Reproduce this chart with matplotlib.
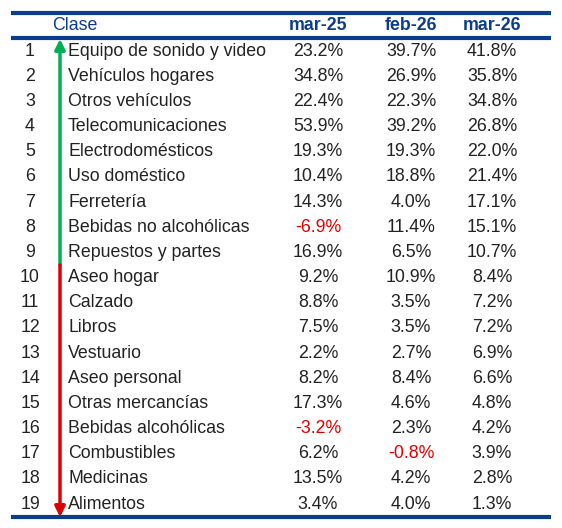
import matplotlib.pyplot as plt

plt.rcParams['font.family'] = ['Liberation Sans', 'DejaVu Sans']

clases = ["Equipo de sonido y video", "Vehículos hogares", "Otros vehículos",
          "Telecomunicaciones", "Electrodomésticos", "Uso doméstico", "Ferretería",
          "Bebidas no alcohólicas", "Repuestos y partes", "Aseo hogar", "Calzado",
          "Libros", "Vestuario", "Aseo personal", "Otras mercancías",
          "Bebidas alcohólicas", "Combustibles", "Medicinas", "Alimentos"]
mar25 = [23.2, 34.8, 22.4, 53.9, 19.3, 10.4, 14.3, -6.9, 16.9, 9.2, 8.8, 7.5,
         2.2, 8.2, 17.3, -3.2, 6.2, 13.5, 3.4]
feb26 = [39.7, 26.9, 22.3, 39.2, 19.3, 18.8, 4.0, 11.4, 6.5, 10.9, 3.5, 3.5,
         2.7, 8.4, 4.6, 2.3, -0.8, 4.2, 4.0]
mar26 = [41.8, 35.8, 34.8, 26.8, 22.0, 21.4, 17.1, 15.1, 10.7, 8.4, 7.2, 7.2,
         6.9, 6.6, 4.8, 4.2, 3.9, 2.8, 1.3]
columnas = ["mar-25", "feb-26", "mar-26"]

navy = "#0b3d8c"
fs = 12.8
fig = plt.figure(figsize=(5.62, 5.28), dpi=100)
ax = fig.add_axes([0, 0, 1, 1])
ax.set_xlim(0, 562)
ax.set_ylim(528, 0)
ax.axis("off")

for y in [13, 38, 517]:
    ax.plot([11, 551], [y, y], color=navy, lw=3, solid_capstyle="butt")

ax.text(52, 25, "Clase", color=navy, fontsize=fs, va="center")
col_x = [318, 411, 492]
for x, c in zip(col_x, columnas):
    ax.text(x, 25, c, color=navy, fontsize=fs, fontweight="bold", ha="center", va="center")

y0, dy = 51, 25.17
for i, nombre in enumerate(clases):
    y = y0 + i * dy
    ax.text(30, y, str(i + 1), fontsize=fs, ha="center", va="center", color="#222222")
    ax.text(68, y, nombre, fontsize=fs, va="center", color="#222222")
    for x, serie in zip(col_x, [mar25, feb26, mar26]):
        v = serie[i]
        ax.text(x, y, f"{v:.1f}%", fontsize=fs, ha="center", va="center",
                color="#e00000" if v < 0 else "#222222")

split = y0 + 8.5 * dy
ax.annotate("", xy=(60, 39), xytext=(60, split),
            arrowprops=dict(arrowstyle="-|>,head_width=0.3,head_length=0.6",
                            color="#00b050", lw=2.5, shrinkA=0, shrinkB=0))
ax.annotate("", xy=(60, 517), xytext=(60, split),
            arrowprops=dict(arrowstyle="-|>,head_width=0.3,head_length=0.6",
                            color="#e00000", lw=2.5, shrinkA=0, shrinkB=0))

fig.savefig("out.png", dpi=100)
